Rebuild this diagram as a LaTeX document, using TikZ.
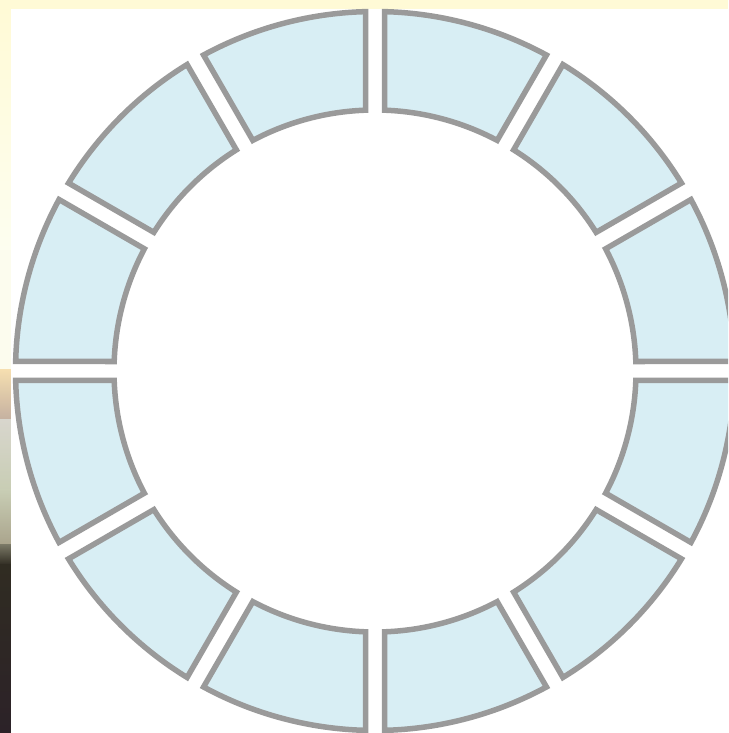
\documentclass[tikz,border=0pt]{standalone}
\usetikzlibrary{calc}
\definecolor{segfill}{RGB}{216,238,244}
\definecolor{segline}{RGB}{154,154,154}
\definecolor{topyel}{RGB}{255,250,214}
\definecolor{paleA}{RGB}{253,254,240}
\definecolor{paleB}{RGB}{252,252,238}
\definecolor{beigeA}{RGB}{245,222,176}
\definecolor{beigeB}{RGB}{196,176,160}
\definecolor{greyA}{RGB}{216,214,205}
\definecolor{greyB}{RGB}{200,205,180}
\definecolor{greyC}{RGB}{170,164,140}
\definecolor{darkA}{RGB}{120,118,100}
\definecolor{darkB}{RGB}{48,44,34}
\definecolor{darkC}{RGB}{44,34,40}
\tikzset{
  seg/.style={fill=segfill, draw=segline, line width=5.5pt, line join=miter},
}
\begin{document}
\begin{tikzpicture}[x=1pt,y=1pt]
\useasboundingbox (0,0) rectangle (728,733);
\begin{scope}
\clip (0,0) rectangle (728,733);
% background strips
\fill[topyel] (0,724) rectangle (728,733);
\shade[top color=topyel, bottom color=paleA] (0,483) rectangle (11,724);
\fill[paleB] (0,363) rectangle (11,483);
\shade[top color=beigeA, bottom color=beigeB] (0,313) rectangle (11,363);
\shade[top color=greyA, bottom color=greyB] (0,243) rectangle (11,313);
\shade[top color=greyB, bottom color=greyC] (0,188) rectangle (11,243);
\shade[top color=darkA, bottom color=darkB] (0,168) rectangle (11,188);
\shade[top color=darkB, bottom color=darkC] (0,0) rectangle (11,168);
\fill[white] (11,0) rectangle (728,724);
% ring
\coordinate (c) at (375,362);
\def\Ro{359.5}
\def\Ri{261}
\def\dd{9.5}
\foreach \k in {0,...,11}{
  \pgfmathsetmacro{\aoa}{30*\k+asin(\dd/\Ro)}
  \pgfmathsetmacro{\aob}{30*\k+30-asin(\dd/\Ro)}
  \pgfmathsetmacro{\aia}{30*\k+asin(\dd/\Ri)}
  \pgfmathsetmacro{\aib}{30*\k+30-asin(\dd/\Ri)}
  \draw[seg] ($(c)+(\aoa:\Ro)$) arc[start angle=\aoa, end angle=\aob, radius=\Ro]
     -- ($(c)+(\aib:\Ri)$) arc[start angle=\aib, end angle=\aia, radius=\Ri] -- cycle;
}
\end{scope}
\end{tikzpicture}
\end{document}
